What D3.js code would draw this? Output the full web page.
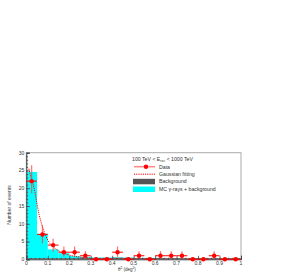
<!DOCTYPE html>
<html lang="en">
<head>
    <meta charset="UTF-8">
    <title>Theta squared distribution</title>
    <script src="https://d3js.org/d3.v7.min.js"></script>
    <style>
        body { margin: 0; background: #fff; font-family: "Liberation Sans", Arial, sans-serif; }
        svg text { fill: #333; }
    </style>
</head>
<body>
    <div id="chart"></div>

    <script>
        // bin edges / centres (deg^2)
        const binEdges = d3.range(0, 20).map(i => i * 0.05);
        const binWidth = 0.05;
        const binCenters = binEdges.map(e => e + 0.025);

        // measured counts and asymmetric errors
        const dataCounts = [22, 7, 4, 2, 2, 1, 0, 0, 2, 0, 1, 0, 1, 1, 1, 0, 0, 1, 0, 0];
        const errLow  = [3.4, 2.5, 1.9, 1.3, 1.3, 0.8, 0, 0, 1.3, 0, 0.8, 0, 0.8, 0.8, 0.8, 0, 0, 0.8, 0, 0];
        const errHigh = [4.5, 2.6, 1.8, 1.6, 1.6, 1.3, 0.6, 0.6, 1.6, 0.6, 1.3, 0.6, 1.3, 1.3, 1.3, 0.6, 0.6, 1.3, 0.6, 0.6];

        // MC gamma + background, and background alone
        const mcTotal = [24.6, 7.2, 2.8, 1.7, 0.9, 0.7, 0.5, 0.45, 0.5, 0.45, 0.4, 0.4, 0.4, 0.35, 0.35, 0.35, 0.3, 0.3, 0.3, 0.3];
        const background = [0.3, 0.3, 0.3, 0.3, 0.3, 0.35, 0.35, 0.4, 0.45, 0.4, 0.35, 0.35, 0.35, 0.3, 0.3, 0.3, 0.3, 0.3, 0.3, 0.3];

        // gaussian fit curve
        const fitX = [0.012, 0.02, 0.03, 0.04, 0.05, 0.06, 0.07, 0.08, 0.09, 0.1, 0.12, 0.14, 0.16, 0.18, 0.2, 0.25, 0.3, 0.35, 0.4, 0.5, 0.6, 0.8, 1.0];
        const fitY = [25.5, 23.5, 21.5, 19, 15.5, 12.5, 10.2, 8.3, 6.7, 5.4, 3.8, 2.8, 2.1, 1.6, 1.2, 0.6, 0.3, 0.15, 0.1, 0.05, 0.05, 0.05, 0.05];

        const xTicks = [0, 0.1, 0.2, 0.3, 0.4, 0.5, 0.6, 0.7, 0.8, 0.9, 1];
        const yTicks = [0, 5, 10, 15, 20, 25, 30];

        const legendLabels = ["Data", "Gaussian fitting", "Background", "MC  \u03b3-rays + background"];

        const W = 289, H = 273;
        const pLeft = 26.3, pRight = 241, pTop = 152.7, pBottom = 259.3;

        const svg = d3.select("#chart").append("svg")
            .attr("width", W).attr("height", H)
            .style("display", "block");

        svg.append("clipPath").attr("id", "plotclip")
            .append("rect")
            .attr("x", pLeft).attr("y", pTop)
            .attr("width", pRight - pLeft).attr("height", pBottom - pTop);

        const x = d3.scaleLinear().domain([0, 1]).range([pLeft, pRight]);
        const y = d3.scaleLinear().domain([0, 30]).range([pBottom, pTop]);

        const plot = svg.append("g").attr("clip-path", "url(#plotclip)");

        // MC histogram
        plot.append("g").selectAll("rect").data(mcTotal).join("rect")
            .attr("x", (d, i) => x(binEdges[i]))
            .attr("width", (d, i) => x(binEdges[i] + binWidth) - x(binEdges[i]))
            .attr("y", d => y(d))
            .attr("height", d => y(0) - y(d))
            .attr("fill", "#00ffff");

        // background histogram
        plot.append("g").selectAll("rect").data(background).join("rect")
            .attr("x", (d, i) => x(binEdges[i]))
            .attr("width", (d, i) => x(binEdges[i] + binWidth) - x(binEdges[i]))
            .attr("y", d => y(d))
            .attr("height", d => y(0) - y(d))
            .attr("fill", "#555");

        // frame
        svg.append("rect")
            .attr("x", pLeft).attr("y", pTop)
            .attr("width", pRight - pLeft).attr("height", pBottom - pTop)
            .attr("fill", "none").attr("stroke", "#aaa").attr("stroke-width", 1);

        // axes with inward ticks
        const xMinor = d3.range(0, 1.0001, 0.02);
        const yMinor = d3.range(0, 30.001, 1);

        const xAxis = svg.append("g").attr("transform", `translate(0,${pBottom})`);
        xAxis.call(d3.axisTop(x).tickValues(xMinor).tickSize(1.5).tickFormat(""));
        xAxis.call(g => g.select(".domain").remove());
        const xMajor = svg.append("g").attr("transform", `translate(0,${pBottom})`)
            .call(d3.axisTop(x).tickValues(xTicks).tickSize(3.5).tickFormat(""));
        xMajor.select(".domain").attr("stroke", "#444");

        const yAxis = svg.append("g").attr("transform", `translate(${pLeft},0)`);
        yAxis.call(d3.axisRight(y).tickValues(yMinor).tickSize(1.8).tickFormat(""));
        yAxis.call(g => g.select(".domain").remove());
        const yMajor = svg.append("g").attr("transform", `translate(${pLeft},0)`)
            .call(d3.axisRight(y).tickValues(yTicks).tickSize(3.5).tickFormat(""));
        yMajor.select(".domain").attr("stroke", "#444");
        svg.selectAll("g.tick line").attr("stroke", "#444").attr("stroke-width", 0.8);

        // tick labels
        svg.append("g").selectAll("text").data(xTicks).join("text")
            .attr("x", d => x(d)).attr("y", 265)
            .attr("text-anchor", "middle")
            .attr("font-size", 5)
            .text(d => d === 0 ? "0" : d === 1 ? "1" : d3.format(".1f")(d));

        svg.append("g").selectAll("text").data(yTicks).join("text")
            .attr("x", pLeft - 2).attr("y", d => y(d) + 1.8)
            .attr("text-anchor", "end")
            .attr("font-size", 5)
            .text(d => d);

        // axis titles
        const xt = svg.append("text").attr("x", 118).attr("y", 270.5)
            .attr("font-size", 4.5);
        xt.append("tspan").text("\u03b8");
        xt.append("tspan").attr("dy", -1.8).attr("font-size", 3.2).text("2");
        xt.append("tspan").attr("dy", 1.8).text(" (deg");
        xt.append("tspan").attr("dy", -1.8).attr("font-size", 3.2).text("2");
        xt.append("tspan").attr("dy", 1.8).text(")");

        svg.append("text")
            .attr("transform", "translate(11,205) rotate(-90)")
            .attr("text-anchor", "middle")
            .attr("font-size", 5)
            .text("Number of events");

        // gaussian fit
        plot.append("path")
            .datum(fitX.map((v, i) => [v, fitY[i]]))
            .attr("fill", "none")
            .attr("stroke", "#ff0000")
            .attr("stroke-width", 1)
            .attr("stroke-dasharray", "1.2,1")
            .attr("d", d3.line().curve(d3.curveMonotoneX).x(d => x(d[0])).y(d => y(d[1])));

        // data points with error bars
        const pts = svg.append("g");
        binCenters.forEach((c, i) => {
            const v = dataCounts[i];
            pts.append("line")
                .attr("x1", x(c)).attr("x2", x(c))
                .attr("y1", y(v - errLow[i])).attr("y2", y(v + errHigh[i]))
                .attr("stroke", "#ff4040").attr("stroke-opacity", 0.75).attr("stroke-width", 1.2);
            pts.append("line")
                .attr("x1", x(c - binWidth / 2)).attr("x2", x(c + binWidth / 2))
                .attr("y1", y(v)).attr("y2", y(v))
                .attr("stroke", "#ff0000").attr("stroke-width", 1);
            pts.append("circle")
                .attr("cx", x(c)).attr("cy", y(v)).attr("r", 2.2)
                .attr("fill", "#ff0000");
        });

        // legend
        const lg = svg.append("g");
        const hdr = lg.append("text").attr("x", 132).attr("y", 161).attr("font-size", 5.2);
        hdr.append("tspan").text("100 TeV < E");
        hdr.append("tspan").attr("dy", 1.2).attr("font-size", 3.5).text("rec");
        hdr.append("tspan").attr("dy", -1.2).text(" < 1000 TeV");

        const rowY = [168.5, 176, 183.3, 191];
        lg.append("line").attr("x1", 134).attr("x2", 155).attr("y1", rowY[0] - 1.8).attr("y2", rowY[0] - 1.8)
            .attr("stroke", "#ff4040").attr("stroke-opacity", 0.6).attr("stroke-width", 1.6);
        lg.append("circle").attr("cx", 146).attr("cy", rowY[0] - 1.8).attr("r", 2.2).attr("fill", "#ff0000");
        lg.append("line").attr("x1", 134).attr("x2", 155).attr("y1", rowY[1] - 1.8).attr("y2", rowY[1] - 1.8)
            .attr("stroke", "#ff0000").attr("stroke-width", 1).attr("stroke-dasharray", "1.2,1");
        lg.append("rect").attr("x", 133).attr("y", rowY[2] - 4.5).attr("width", 22).attr("height", 5.5).attr("fill", "#555");
        lg.append("rect").attr("x", 133).attr("y", rowY[3] - 4.5).attr("width", 22).attr("height", 5.5).attr("fill", "#00ffff");

        lg.selectAll("text.lab").data(legendLabels).join("text")
            .attr("class", "lab")
            .attr("x", 159).attr("y", (d, i) => rowY[i])
            .attr("font-size", 5.2)
            .text(d => d);
    </script>
</body>
</html>
